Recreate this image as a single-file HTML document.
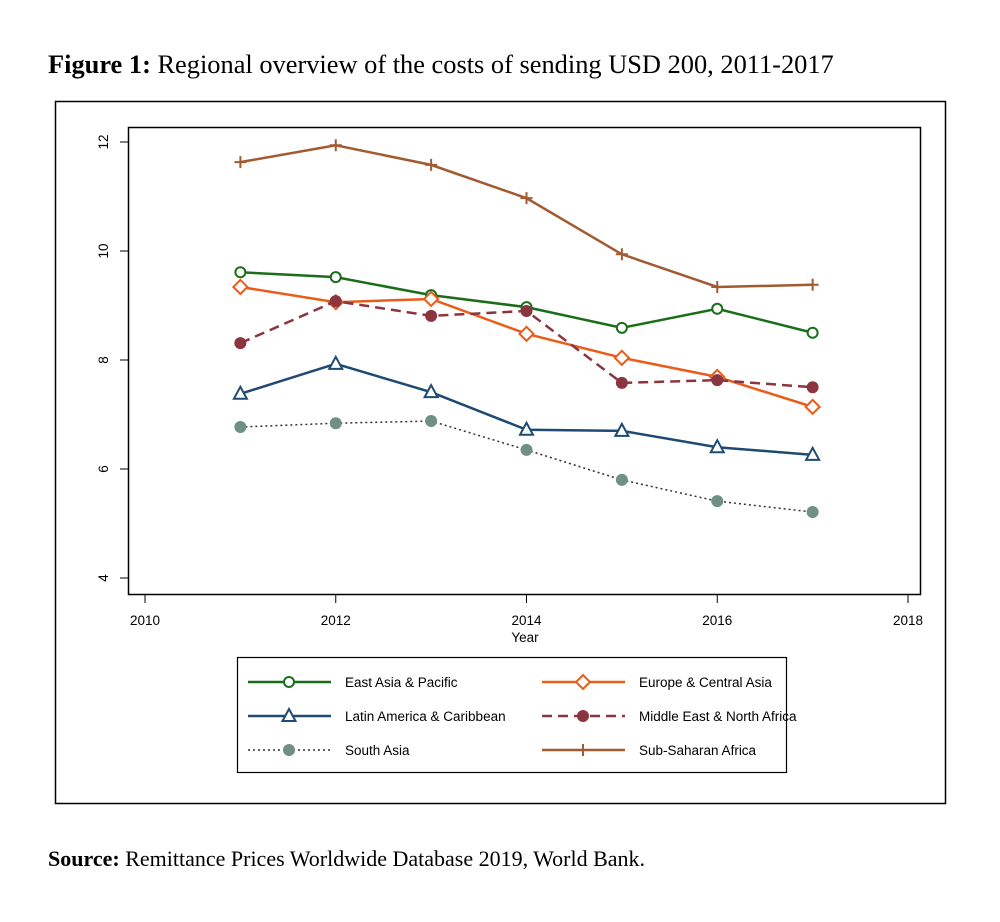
<!DOCTYPE html>
<html><head><meta charset="utf-8"><style>
body{margin:0;background:#fff;width:1000px;height:922px;overflow:hidden;font-family:"Liberation Sans",sans-serif}
.t{position:absolute;font-family:"Liberation Serif",serif;color:#000;white-space:nowrap}
</style></head><body>
<div class="t" style="left:48px;top:49px;font-size:26.4px"><b>Figure 1:</b> Regional overview of the costs of sending USD 200, 2011-2017</div>
<div class="t" style="left:48px;top:846px;font-size:22px"><b>Source:</b> Remittance Prices Worldwide Database 2019, World Bank.</div>
<svg id="c" width="1000" height="922" style="position:absolute;left:0;top:0" xmlns="http://www.w3.org/2000/svg">
<rect x="55.5" y="101.5" width="890" height="702" fill="none" stroke="#000" stroke-width="1.5"/>
<rect x="128.5" y="127.5" width="792" height="467" fill="none" stroke="#000" stroke-width="1.5"/>
<rect x="237.5" y="657.5" width="549" height="115" fill="none" stroke="#000" stroke-width="1.2"/>
<g id="g"></g>
</svg>
<script>
const years=[2011,2012,2013,2014,2015,2016,2017];
const xTicks=[2010,2012,2014,2016,2018];
const yTicks=[4,6,8,10,12];
const eap=[9.61,9.52,9.19,8.97,8.59,8.94,8.50];
const eca=[9.34,9.06,9.12,8.48,8.04,7.69,7.14];
const lac=[7.38,7.93,7.41,6.72,6.70,6.40,6.26];
const mena=[8.31,9.08,8.81,8.90,7.58,7.63,7.50];
const sa=[6.77,6.84,6.88,6.35,5.80,5.41,5.21];
const ssa=[11.63,11.94,11.58,10.97,9.94,9.34,9.38];
const names=["East Asia & Pacific","Europe & Central Asia","Latin America & Caribbean","Middle East & North Africa","South Asia","Sub-Saharan Africa"];
const X=v=>145+(v-2010)*95.375;
const Y=v=>578-(v-4)*54.5;
const g=document.getElementById('g');
const NS="http://www.w3.org/2000/svg";
function mk(t,a){const e=document.createElementNS(NS,t);for(const k in a)e.setAttribute(k,a[k]);g.appendChild(e);return e;}
xTicks.forEach(v=>{const l=mk('line',{x1:X(v),x2:X(v),y1:595,y2:603,stroke:'#000'});

const t=mk('text',{x:X(v),y:625,'font-size':13.5,'text-anchor':'middle'});t.textContent=v;
});
yTicks.forEach(v=>{const l=mk('line',{x1:120,x2:128,y1:Y(v),y2:Y(v),stroke:'#000'});

const t=mk('text',{x:0,y:0,'font-size':13.5,'text-anchor':'middle',transform:`translate(108,${Y(v)}) rotate(-90)`});t.textContent=v;
});
const xt=mk('text',{x:525,y:642,'font-size':13.5,'text-anchor':'middle'});xt.textContent='Year';

function marker(type,x,y,c){let e;
if(type=='o')e=mk('circle',{cx:x,cy:y,r:5,fill:'#fff',stroke:c,'stroke-width':2});
else if(type=='d')e=mk('polygon',{points:`${x},${y-7} ${x+7},${y} ${x},${y+7} ${x-7},${y}`,fill:'#fff',stroke:c,'stroke-width':2});
else if(type=='t')e=mk('polygon',{points:`${x},${y-7} ${x+6.5},${y+5} ${x-6.5},${y+5}`,fill:'#fff',stroke:c,'stroke-width':2});
else if(type=='f')e=mk('circle',{cx:x,cy:y,r:6,fill:c});
else e=mk('path',{d:`M${x-6},${y}H${x+6}M${x},${y-6}V${y+6}`,stroke:c,'stroke-width':2});
return e;}
const series=[[eap,'#1a6e1a','o',''],[eca,'#ea5c18','d',''],[lac,'#1f4a73','t',''],[mena,'#8b3540','f','10,6'],[sa,'#6f8f87','f','2,3'],[ssa,'#a25a30','p','']];
series.forEach((s,i)=>{const [d,c,m,da]=s;
const p=mk('polyline',{points:d.map((v,j)=>X(years[j])+','+Y(v)).join(' '),fill:'none',stroke:i==4?'#333':c,'stroke-width':i==4?1.5:2.5,'stroke-dasharray':da});

d.forEach((v,j)=>{const e=marker(m,X(years[j]),Y(v),c);
});
const col=i%2,row=Math.floor(i/2);const lx=col?542:248,ly=682+row*34;
const ll=mk('line',{x1:lx,x2:lx+83,y1:ly,y2:ly,stroke:i==4?'#333':c,'stroke-width':i==4?1.5:2.5,'stroke-dasharray':da});

const lm=marker(m,lx+41,ly,c);
const lt=mk('text',{x:lx+97,y:ly+5,'font-size':13.5});lt.textContent=names[i];
});
</script>
</body></html>
